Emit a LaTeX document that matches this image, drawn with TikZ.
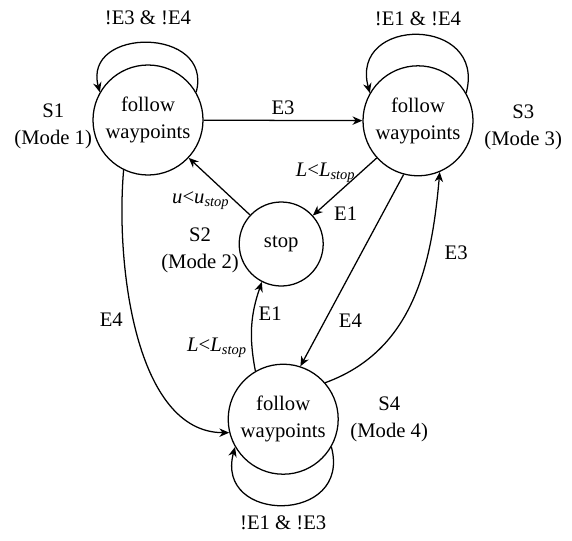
\documentclass[tikz,border=0pt]{standalone}
\usepackage{fontspec}
\setmainfont{Liberation Serif}
\usetikzlibrary{arrows.meta}

\begin{document}
\begin{tikzpicture}[
    >={Stealth[length=7pt,width=6pt]},
    every node/.style={font=\fontsize{14.7}{19}\selectfont},
    state/.style={draw, circle, line width=0.9pt, minimum size=2.75cm, align=center, inner sep=0pt},
    trans/.style={->, line width=0.9pt},
  ]
  \useasboundingbox (0,0) rectangle (14.3,-13.5);

  % states
  \node[state] (s1) at (3.7,-3.0) {follow\\waypoints};
  \node[state] (s3) at (10.45,-3.02) {follow\\waypoints};
  \node[state, minimum size=2.1cm] (s2) at (7.03,-6.1) {stop};
  \node[state] (s4) at (7.08,-10.48) {follow\\waypoints};

  % mode names
  \node[align=center] (m1) at (1.33,-3.15) {S1\\(Mode 1)};
  \node[align=center] (m2) at (5.0,-6.25) {S2\\(Mode 2)};
  \node[align=center] (m3) at (13.08,-3.18) {S3\\(Mode 3)};
  \node[align=center] (m4) at (9.73,-10.48) {S4\\(Mode 4)};

  % self loops
  \draw[trans] (s1.30) .. controls +(75:1.7) and +(105:1.7) .. node[above=9pt] {!E3 \& !E4} (s1.150);
  \draw[trans] (s3.30) .. controls +(75:2.0) and +(105:2.0) .. node[above=3pt] {!E1 \& !E4} (s3.150);
  \draw[trans] (s4.-30) .. controls +(-75:2.0) and +(-105:2.0) .. node[below=4pt] {!E1 \& !E3} (s4.210);

  % transitions
  \draw[trans] (s1) -- node[above] {E3} (s3);
  \draw[trans] (s3) -- node[pos=0.25, left] {\textit{L}<\textit{L}\textsubscript{\textit{stop}}}
    node[pos=0.75, below right] {E1} (s2);
  \draw[trans] (s2) -- node[pos=0.25, left] {\textit{u}<\textit{u}\textsubscript{\textit{stop}}} (s1);
  \draw[trans] (s3.255) -- node[pos=0.76, right=6pt] {E4} (s4.72);
  \draw[trans] (s1.244) to[out=-95, in=180, looseness=0.85] node[pos=0.45, left=4pt] {E4} (s4.194);
  \draw[trans] (s4.41) to[out=20, in=-95] node[pos=0.7, right=8pt] {E3} (s3.293);
  \draw[trans] (s4.120) to[bend left=15] node[pos=0.25, left] {\textit{L}<\textit{L}\textsubscript{\textit{stop}}}
    node[pos=0.65, right] {E1} (s2.243);
\end{tikzpicture}
\end{document}
